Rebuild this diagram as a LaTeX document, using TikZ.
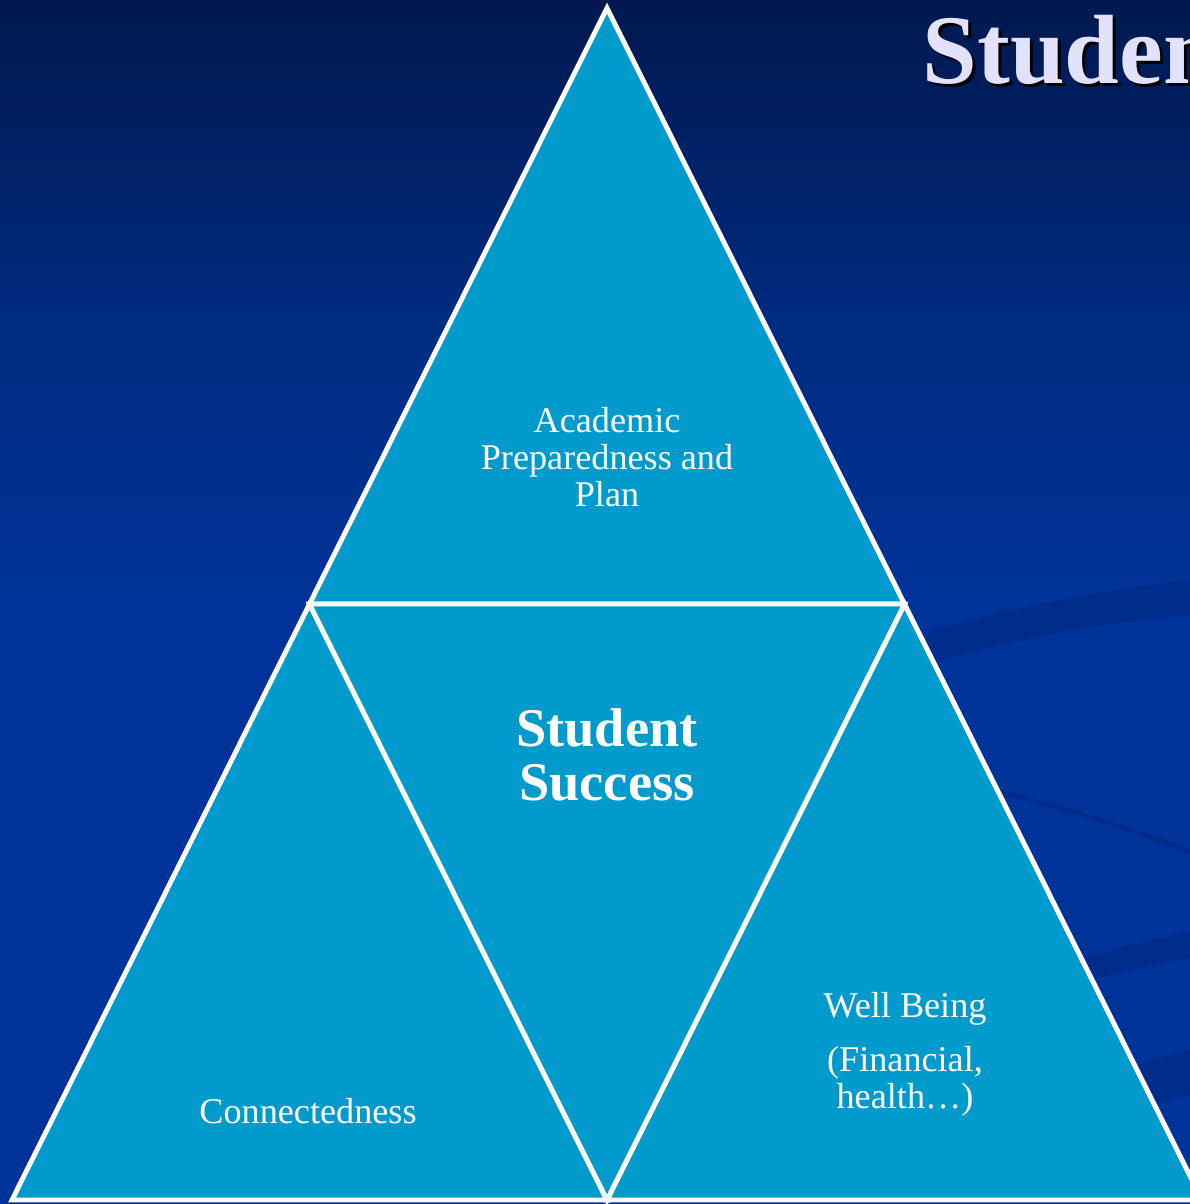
\documentclass[tikz,border=0pt]{standalone}
\usepackage{fontspec}
\setmainfont{Liberation Serif}
\usetikzlibrary{positioning,calc}
\usepackage{xcolor}

\definecolor{slidetop}{RGB}{0,24,78}
\definecolor{slidemid}{RGB}{0,42,125}
\definecolor{slidebot}{RGB}{0,51,153}
\definecolor{swoosh}{RGB}{0,45,140}
\definecolor{pyramidfill}{RGB}{0,155,204}
\definecolor{titlelilac}{RGB}{226,226,255}

\tikzset{
  facet/.style={fill=pyramidfill, draw=white, line width=1.4pt, line join=miter},
  facetlabel/.style={text=white, align=center, font=\fontsize{10.3}{10.5}\selectfont},
  corelabel/.style={text=white, align=center, font=\fontsize{15.5}{15.4}\selectfont\bfseries},
  titletext/.style={anchor=base west, inner sep=0pt, font=\fontsize{28}{30}\selectfont\bfseries},
}

\begin{document}
\begin{tikzpicture}[x=0.1mm, y=-0.1mm]
    \useasboundingbox (0,0) rectangle (1190,1204);
    \clip (0,0) rectangle (1190,1204);

    % Slide background
    \fill[slidebot] (0,600) rectangle (1190,1204);
    \shade[top color=slidetop, bottom color=slidebot, middle color=slidemid] (0,0) rectangle (1190,601);

    % Faint swooshes on the right
    \fill[swoosh] (925,632) .. controls (1020,605) and (1110,590) .. (1190,580)
        -- (1190,615) .. controls (1100,622) and (1010,640) .. (935,662) -- cycle;
    \draw[swoosh, line width=1.3pt] (1000,792) .. controls (1080,812) and (1140,832) .. (1190,852);
    \fill[swoosh] (1060,965) .. controls (1110,950) and (1150,940) .. (1190,932)
        -- (1190,958) .. controls (1150,965) and (1110,975) .. (1070,985) -- cycle;
    \fill[swoosh] (1130,1068) .. controls (1150,1060) and (1170,1055) .. (1190,1050)
        -- (1190,1095) .. controls (1175,1098) and (1160,1102) .. (1150,1108) -- cycle;

    % Pyramid corners
    \coordinate (apex) at (607,8);
    \coordinate (botL) at (12,1200);
    \coordinate (botR) at (1202,1200);
    \coordinate (midL) at (309.5,604);
    \coordinate (midR) at (904.5,604);
    \coordinate (midB) at (607,1200);

    % Facets
    \draw[facet] (apex) -- (midL) -- (midR) -- cycle;
    \draw[facet] (midL) -- (botL) -- (midB) -- cycle;
    \draw[facet] (midR) -- (midB) -- (botR) -- cycle;
    \draw[facet] (midL) -- (midR) -- (midB) -- cycle;

    % Labels
    \node[facetlabel] (academic) at (607,457) {Academic\\Preparedness and\\Plan};
    \node[corelabel] (core) at (607,755) {Student\\Success};
    \node[facetlabel] (connected) at (308,1111) {Connectedness};
    \node[facetlabel] (wellbeing) at (905,1054) {Well Being\\[4.9pt](Financial,\\health\ldots)};

    % Title, cut off at the right edge
    \node[titletext, text=black] (titleshadow) at (925,86) {Student};
    \node[titletext, text=titlelilac] (title) at (922,83) {Student};
\end{tikzpicture}
\end{document}
